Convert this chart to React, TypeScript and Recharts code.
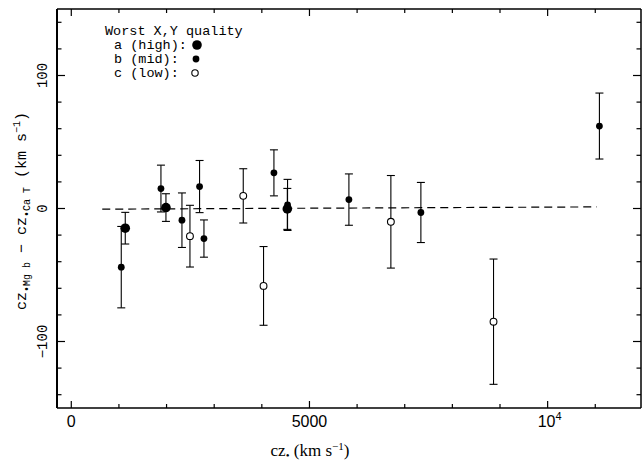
import { ScatterChart, Scatter, XAxis, YAxis, ErrorBar } from "recharts";

// Worst X,Y quality a (high)
const highQ = [
  { x: 1133, y: -14.8, err: 11.9 },
  { x: 1987, y: 0.7, err: 10.4 },
  { x: 4535, y: -0.3, err: 15.4 },
];
// b (mid)
const midQ = [
  { x: 1049, y: -44.1, err: 30.6 },
  { x: 1882, y: 15.0, err: 17.6 },
  { x: 2323, y: -8.8, err: 20.5 },
  { x: 2693, y: 16.5, err: 19.6 },
  { x: 2785, y: -22.6, err: 14.0 },
  { x: 4254, y: 26.8, err: 17.3 },
  { x: 4540, y: 2.7, err: 19.2 },
  { x: 5828, y: 6.7, err: 19.3 },
  { x: 7339, y: -3.0, err: 22.6 },
  { x: 11087, y: 62.0, err: 24.8 },
];
// c (low)
const lowQ = [
  { x: 2491, y: -20.8, err: 23.2 },
  { x: 3610, y: 9.5, err: 20.4 },
  { x: 4036, y: -58.2, err: 29.6 },
  { x: 6709, y: -10.0, err: 34.8 },
  { x: 8864, y: -85.1, err: 47.1 },
];
// dashed fit
const fitLine = [
  { x: 650, y: -0.5 },
  { x: 11030, y: 1.2 },
];

const xDomain = [-300, 11960];
const yDomain = [-150, 150];
const xTicks = [0, 1000, 2000, 3000, 4000, 5000, 6000, 7000, 8000, 9000, 10000, 11000];
const yTicks = [-140, -120, -100, -80, -60, -40, -20, 0, 20, 40, 60, 80, 100, 120, 140];
const xMajor = [0, 5000, 10000];
const yMajor = [-100, 0, 100];
const yLabels: Record<number, string> = { 100: "100", 0: "0", "-100": "\u2212100" };

const W = 642;
const H = 464;
const mono = "'Liberation Mono', monospace";

function BottomTick({ x, y, payload }: any) {
  const v = payload.value;
  const len = xMajor.includes(v) ? 7 : 4;
  return (
    <g>
      <line x1={x} x2={x} y1={y} y2={y - len} stroke="#000" strokeWidth={1.2} />
      {v === 0 || v === 5000 ? (
        <text x={x} y={y + 19} textAnchor="middle" fontFamily="'Liberation Sans', sans-serif" fontSize={16}>
          {v}
        </text>
      ) : null}
      {v === 10000 ? (
        <text x={x + 2} y={y + 19} textAnchor="middle" fontFamily="'Liberation Sans', sans-serif" fontSize={16}>
          10<tspan dy={-7} fontSize={11}>4</tspan>
        </text>
      ) : null}
    </g>
  );
}

function TopTick({ x, y, payload }: any) {
  const len = xMajor.includes(payload.value) ? 7 : 4;
  return <line x1={x} x2={x} y1={y} y2={y + len} stroke="#000" strokeWidth={1.2} />;
}

function LeftTick({ x, y, payload }: any) {
  const v = payload.value;
  const len = yMajor.includes(v) ? 8 : 4.5;
  const lab = yLabels[v];
  return (
    <g>
      <line x1={x} x2={x + len} y1={y} y2={y} stroke="#000" strokeWidth={1.2} />
      {lab ? (
        <text
          x={x - 14}
          y={y}
          transform={`rotate(-90, ${x - 14}, ${y})`}
          textAnchor="middle"
          dominantBaseline="central"
          fontFamily={mono}
          fontSize={14}
        >
          {lab}
        </text>
      ) : null}
    </g>
  );
}

function RightTick({ x, y, payload }: any) {
  const len = yMajor.includes(payload.value) ? 8 : 4.5;
  return <line x1={x} x2={x - len} y1={y} y2={y} stroke="#000" strokeWidth={1.2} />;
}

const bigDot = (p: any) => <circle cx={p.cx} cy={p.cy} r={4.8} fill="#000" />;
const midDot = (p: any) => <circle cx={p.cx} cy={p.cy} r={3.4} fill="#000" />;
const openDot = (p: any) => <circle cx={p.cx} cy={p.cy} r={3.4} fill="#fff" stroke="#000" strokeWidth={1.1} />;
const noDot = () => <g />;

export default function App() {
  return (
    <div style={{ position: "absolute", left: 0, top: 0, width: W, height: H, background: "#fff" }}>
      <ScatterChart width={W} height={H} margin={{ top: 0, right: 0, bottom: 0, left: 0 }}>
        <XAxis
          xAxisId={0}
          dataKey="x"
          type="number"
          domain={xDomain}
          allowDataOverflow
          ticks={xTicks}
          height={56}
          tickSize={0}
          tickMargin={0}
          tickLine={false}
          axisLine={{ stroke: "#000", strokeWidth: 1.6 }}
          tick={BottomTick}
          interval={0}
        />
        <XAxis
          xAxisId="top"
          orientation="top"
          dataKey="x"
          type="number"
          domain={xDomain}
          allowDataOverflow
          ticks={xTicks}
          height={9}
          tickSize={0}
          tickMargin={0}
          tickLine={false}
          axisLine={{ stroke: "#000", strokeWidth: 1.5 }}
          tick={TopTick}
          interval={0}
        />
        <YAxis
          yAxisId={0}
          dataKey="y"
          type="number"
          domain={yDomain}
          allowDataOverflow
          ticks={yTicks}
          width={57}
          tickSize={0}
          tickMargin={0}
          tickLine={false}
          axisLine={{ stroke: "#000", strokeWidth: 2 }}
          tick={LeftTick}
          interval={0}
        />
        <YAxis
          yAxisId="right"
          orientation="right"
          dataKey="y"
          type="number"
          domain={yDomain}
          allowDataOverflow
          ticks={yTicks}
          width={1}
          tickSize={0}
          tickMargin={0}
          tickLine={false}
          axisLine={{ stroke: "#000", strokeWidth: 1.5 }}
          tick={RightTick}
          interval={0}
        />
        <Scatter
          data={fitLine}
          line={{ stroke: "#000", strokeWidth: 1.2, strokeDasharray: "8 5" }}
          shape={noDot}
          isAnimationActive={false}
        />
        <Scatter data={lowQ} shape={openDot} isAnimationActive={false}>
          <ErrorBar dataKey="err" direction="y" width={4} stroke="#000" strokeWidth={1.1} />
        </Scatter>
        <Scatter data={midQ} shape={midDot} isAnimationActive={false}>
          <ErrorBar dataKey="err" direction="y" width={4} stroke="#000" strokeWidth={1.1} />
        </Scatter>
        <Scatter data={highQ} shape={bigDot} isAnimationActive={false}>
          <ErrorBar dataKey="err" direction="y" width={4} stroke="#000" strokeWidth={1.1} />
        </Scatter>
      </ScatterChart>
      <svg
        width={W}
        height={H}
        style={{ position: "absolute", left: 0, top: 0, pointerEvents: "none" }}
      >
        <g fontFamily={mono} fontSize={13.5} fill="#000">
          <text x={105} y={35}>Worst X,Y quality</text>
          <text x={114} y={49}>a (high):</text>
          <text x={114} y={63}>b (mid):</text>
          <text x={114} y={77}>c (low):</text>
        </g>
        <circle cx={197} cy={45} r={4.8} fill="#000" />
        <circle cx={196} cy={59} r={3.4} fill="#000" />
        <circle cx={195} cy={73} r={3.2} fill="#fff" stroke="#000" strokeWidth={1.1} />
        <text
          x={26}
          y={211}
          transform="rotate(-90, 26, 211)"
          textAnchor="middle"
          fontFamily={mono}
          fontSize={15}
        >
          cz<tspan fontSize={10} dy={4}>{"\u2022Mg b"}</tspan>
          <tspan dy={-4}>{" \u2212 cz"}</tspan>
          <tspan fontSize={10} dy={4}>{"\u2022Ca T"}</tspan>
          <tspan dy={-4}>{" (km s"}</tspan>
          <tspan fontSize={10} dy={-6}>{"\u22121"}</tspan>
          <tspan dy={6}>)</tspan>
        </text>
        <text x={310} y={456} textAnchor="middle" fontFamily="'Liberation Serif', serif" fontSize={17}>
          cz<tspan fontSize={11} dy={3}>{"\u2022"}</tspan>
          <tspan dy={-3}>{" (km s"}</tspan>
          <tspan fontSize={11} dy={-6}>{"\u22121"}</tspan>
          <tspan dy={6}>)</tspan>
        </text>
      </svg>
    </div>
  );
}
